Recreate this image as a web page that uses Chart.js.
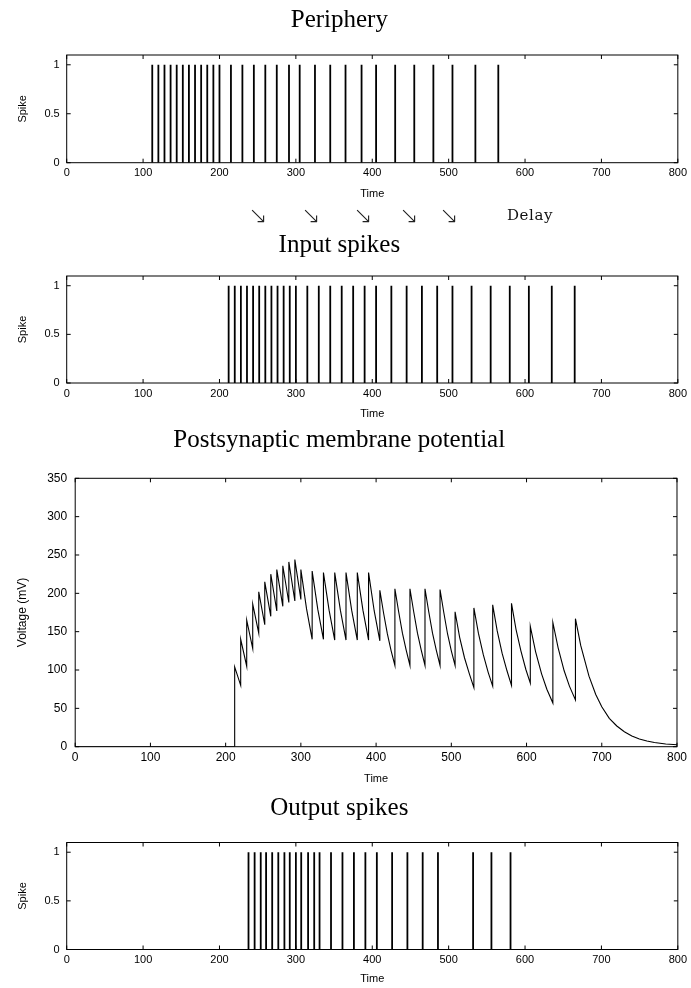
<!DOCTYPE html>
<html>
<head>
<meta charset="utf-8">
<title>Spike propagation</title>
<script src="https://cdn.jsdelivr.net/npm/chart.js@4.4.1/dist/chart.umd.min.js"></script>
<style>
	body { margin: 0; background: #fff; width: 691px; height: 988px; position: relative; overflow: hidden; }
	canvas { position: absolute; left: 0; }
	.arrow { position: absolute; top: 215px; transform: translate(-50%, -50%); font-family: 'DejaVu Sans'; font-weight: 200; font-size: 23px; color: #222; }
	.delay { position: absolute; top: 215px; left: 530px; transform: translate(-50%, -50%); font-family: 'DejaVu Serif'; font-size: 15px; letter-spacing: 0.6px; color: #111; }
</style>
</head>
<body>
<canvas id="periphery" width="691" height="205" style="top:0px"></canvas>
<span class="arrow" style="left:258px">&#8600;</span>
<span class="arrow" style="left:311px">&#8600;</span>
<span class="arrow" style="left:363px">&#8600;</span>
<span class="arrow" style="left:409px">&#8600;</span>
<span class="arrow" style="left:449px">&#8600;</span>
<span class="delay">Delay</span>
<canvas id="input" width="691" height="200" style="top:226px"></canvas>
<canvas id="membrane" width="691" height="372" style="top:418px"></canvas>
<canvas id="output" width="691" height="200" style="top:788px"></canvas>
<script>
/// spike times
var periphery_spikes = [112, 120, 128, 136, 144, 152, 160, 168, 176, 184, 192, 200,
						215, 230, 245, 260, 275, 291, 305, 325, 345, 365, 386, 405,
						430, 455, 480, 505, 535, 565];
var input_spikes = [212, 220, 228, 236, 244, 252, 260, 268, 276, 284, 292, 300,
					315, 330, 345, 360, 375, 390, 405, 425, 445, 465, 485, 505,
					530, 555, 580, 605, 635, 665];
var output_spikes = [238, 246, 254, 261, 269, 277, 285, 292, 300, 307, 316, 324,
					 331, 346, 361, 376, 391, 406, 426, 446, 466, 486, 532, 556, 581];

// membrane potential trace (time, mV) -- pairs at the same time are the jumps
var mem_t = [0, 212, 212, 220, 220, 228, 228, 236, 236, 244, 244, 252, 252, 260, 260,
			 268, 268, 276, 276, 284, 284, 292, 292, 300, 300, 307.5, 315, 315, 322.5,
			 330, 330, 337.5, 345, 345, 352.5, 360, 360, 367.5, 375, 375, 382.5, 390, 390,
			 397.5, 405, 405, 410, 415, 420, 425, 425, 430, 435, 440, 445, 445, 450, 455, 460,
			 465, 465, 470, 475, 480, 485, 485, 490, 495, 500, 505, 505, 511, 517.5, 524,
			 530, 530, 536, 542.5, 549, 555, 555, 561, 567.5, 574, 580, 580, 586, 592.5, 599,
			 605, 605, 612, 620, 627, 635, 635, 642, 650, 657, 665, 665, 672, 683, 692, 700,
			 710, 720, 730, 740, 750, 760, 770, 785, 800];
var mem_v = [0, 0, 104, 80, 140, 105, 165, 128, 186, 148, 202, 159, 215, 170, 225,
			 177, 231, 183, 236, 188, 241, 190, 244, 192, 231, 180, 140, 229, 179,
			 140, 227, 178, 139, 227, 178, 139, 227, 178, 139, 227, 178, 139, 227,
			 177, 138, 204, 174, 147, 125, 106, 206, 176, 148, 126, 106, 206, 176, 148, 126,
			 106, 206, 176, 148, 126, 106, 205, 175, 147, 125, 106, 176, 143, 116, 95,
			 77, 181, 148, 120, 97, 79, 185, 151, 122, 99, 80, 187, 153, 125, 101,
			 83, 157, 124, 95, 75, 57, 162, 129, 99, 79, 61, 167, 132, 92, 68, 52,
			 37, 27, 19.5, 14, 10, 7.5, 5.5, 3.5, 2.5];

var SANS = 'Liberation Sans, Arial, sans-serif';
var SERIF = 'Liberation Serif, Times New Roman, serif';

// gnuplot style frame with inward ticks on all four sides
var gnuplot_frame = {
	id: 'gnuplot_frame',
	afterDraw: function(chart) {
		var ctx = chart.ctx;
		var a = chart.chartArea;
		var xs = chart.scales.x, ys = chart.scales.y;
		var tl = 4;
		ctx.save();
		ctx.strokeStyle = '#000';
		ctx.lineWidth = 1;
		ctx.strokeRect(a.left, a.top, a.right - a.left, a.bottom - a.top);
		ctx.beginPath();
		xs.ticks.forEach(function(t) {
			var px = xs.getPixelForValue(t.value);
			ctx.moveTo(px, a.bottom); ctx.lineTo(px, a.bottom - tl);
			ctx.moveTo(px, a.top);    ctx.lineTo(px, a.top + tl);
		});
		ys.ticks.forEach(function(t) {
			var py = ys.getPixelForValue(t.value);
			ctx.moveTo(a.left, py);  ctx.lineTo(a.left + tl, py);
			ctx.moveTo(a.right, py); ctx.lineTo(a.right - tl, py);
		});
		ctx.stroke();
		ctx.restore();
	}
};

// plain gnuplot-like numbers: 0, 0.5, 1
function plain_label(value) { return String(value); }

function axis_x(axis_h, time_pad, tick_size) {
	return {
		type: 'linear', min: 0, max: 800,
		ticks: { stepSize: 100, color: '#000', font: { family: SANS, size: tick_size }, padding: 4, maxRotation: 0, callback: plain_label },
		grid: { display: false, drawTicks: false },
		border: { display: false },
		title: { display: true, text: 'Time', color: '#000', font: { family: SANS, size: 11 }, padding: { top: 0, bottom: time_pad } },
		afterFit: function(s) { s.height = axis_h; }
	};
}

// Generate one spike train panel
function generate_spike_viz(canvas_id, spikes, chart_title, t_top, t_bottom, axis_h, time_pad) {
	var pts = [];
	for (var i = 0; i < spikes.length; i++) {
		pts.push({ x: spikes[i], y: 0 });
		pts.push({ x: spikes[i], y: 1 });
		pts.push({ x: spikes[i], y: null });
	}
	var cfg = {
		type: 'line',
		data: {
			datasets: [{ data: pts, borderColor: '#000', borderWidth: 1.8, pointRadius: 0, spanGaps: false, tension: 0 }]
		},
		options: {
			responsive: false,
			animation: false,
			layout: { padding: { left: 0, right: 12.3, top: 0, bottom: 0 } },
			plugins: {
				legend: { display: false },
				tooltip: { enabled: false },
				title: { display: true, text: chart_title, color: '#000',
						 font: { family: SERIF, size: 25, weight: 'normal' },
						 padding: { top: t_top, bottom: t_bottom } }
			},
			scales: {
				x: axis_x(axis_h, time_pad, 11),
				y: {
					min: 0, max: 1.1,
					ticks: { stepSize: 0.5, includeBounds: false, color: '#000', font: { family: SANS, size: 11 }, padding: 7, callback: plain_label },
					grid: { display: false, drawTicks: false },
					border: { display: false },
					title: { display: true, text: 'Spike', color: '#000', font: { family: SANS, size: 11 }, padding: { top: 16.2, bottom: 0 } },
					afterFit: function(s) { s.width = 66.7; }
				}
			}
		},
		plugins: [gnuplot_frame]
	};
	new Chart(document.getElementById(canvas_id), cfg);
} // generate_spike_viz

// Generate the membrane potential panel
function generate_membrane_viz(canvas_id) {
	var pts = [];
	for (var i = 0; i < mem_t.length; i++) {
		pts.push({ x: mem_t[i], y: mem_v[i] });
	}
	var cfg = {
		type: 'line',
		data: {
			datasets: [{ data: pts, borderColor: '#000', borderWidth: 1.1, pointRadius: 0, tension: 0 }]
		},
		options: {
			responsive: false,
			animation: false,
			layout: { padding: { left: 0, right: 12.6, top: 0, bottom: 0 } },
			plugins: {
				legend: { display: false },
				tooltip: { enabled: false },
				title: { display: true, text: 'Postsynaptic membrane potential', color: '#000',
						 font: { family: SERIF, size: 25, weight: 'normal' },
						 padding: { top: 7, bottom: 23.3 } }
			},
			scales: {
				x: axis_x(43.3, 4.8, 12),
				y: {
					min: 0, max: 350,
					ticks: { stepSize: 50, color: '#000', font: { family: SANS, size: 12 }, padding: 8, callback: plain_label },
					grid: { display: false, drawTicks: false },
					border: { display: false },
					title: { display: true, text: 'Voltage (mV)', color: '#000', font: { family: SANS, size: 12 }, padding: { top: 15.8, bottom: 0 } },
					afterFit: function(s) { s.width = 75.2; }
				}
			}
		},
		plugins: [gnuplot_frame]
	};
	new Chart(document.getElementById(canvas_id), cfg);
} // generate_membrane_viz

generate_spike_viz('periphery', periphery_spikes, 'Periphery', 5, 20, 42.3, 4.4);
generate_spike_viz('input', input_spikes, 'Input spikes', 4, 16, 43, 5.4);
generate_membrane_viz('membrane');
generate_spike_viz('output', output_spikes, 'Output spikes', 5, 19.5, 38.5, 2.4);
</script>
</body>
</html>
